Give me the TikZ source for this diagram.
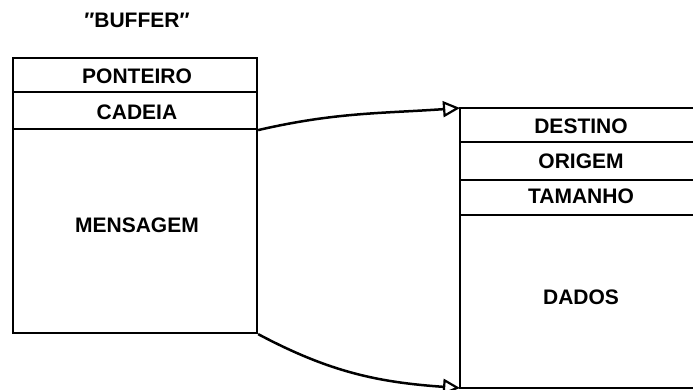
\documentclass[tikz,border=0pt]{standalone}
\usepackage{fontspec}
\setmainfont{Liberation Sans}
\usetikzlibrary{arrows.meta}
\begin{document}
\begin{tikzpicture}[x=1pt,y=1pt,
  lbl/.style={font=\bfseries\fontsize{21}{21}\selectfont, inner sep=0pt},
  cell/.style={draw, line width=2.2pt, inner sep=0pt},
  edge/.style={line width=2.2pt},
  link/.style={line width=2.5pt, -{Triangle[open,length=17pt,width=16pt,line width=2.2pt]}}]
\useasboundingbox (0,0) rectangle (693,-390);
% left box
\node[cell, minimum width=244pt, minimum height=34pt] (ponteiro) at (135,-75) {};
\node[cell, minimum width=244pt, minimum height=37pt] (cadeia) at (135,-110.5) {};
\node[cell, minimum width=244pt, minimum height=204pt] (mensagem) at (135,-231) {};
\node[lbl] (tbuf) at (137,-20) {″BUFFER″};
\node[lbl] (tpont) at (137,-76) {PONTEIRO};
\node[lbl] (tcad) at (137,-112) {CADEIA};
\node[lbl] (tmens) at (137,-225) {MENSAGEM};
% right box (open on the right)
\coordinate (rtop) at (460,-108);
\coordinate (r1) at (460,-142);
\coordinate (r2) at (460,-180);
\coordinate (r3) at (460,-215);
\coordinate (rbot) at (460,-388);
\coordinate (etop) at (693,-108);
\coordinate (e1) at (693,-142);
\coordinate (e2) at (693,-180);
\coordinate (e3) at (693,-215);
\coordinate (ebot) at (693,-388);
\draw[edge] (etop) -- (rtop) -- (rbot) -- (ebot);
\draw[edge] (r1) -- (e1);
\draw[edge] (r2) -- (e2);
\draw[edge] (r3) -- (e3);
\node[lbl] (tdest) at (581,-126) {DESTINO};
\node[lbl] (torig) at (581,-161) {ORIGEM};
\node[lbl] (ttam) at (581,-196) {TAMANHO};
\node[lbl] (tdados) at (581,-297) {DADOS};
% connectors
\draw[link] (cadeia.south east) to[out=13,in=184] (rtop);
\draw[link] (mensagem.south east) to[out=-28,in=176] (rbot);
\end{tikzpicture}
\end{document}
